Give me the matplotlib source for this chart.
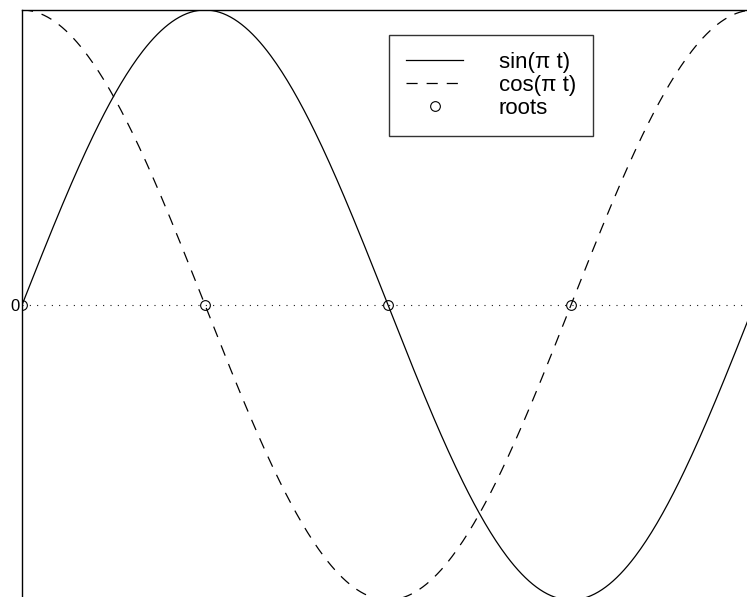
import numpy as np
import matplotlib
matplotlib.use("Agg")
import matplotlib.pyplot as plt

plt.rcParams["font.family"] = ["Liberation Sans", "DejaVu Sans"]

# data
t = np.linspace(0, 2, 401)
roots = [0.0, 0.5, 1.0, 1.5]
root_vals = [0.0, 0.0, 0.0, 0.0]
labels = ["sin(\u03c0 t)", "cos(\u03c0 t)", "roots"]

fig = plt.figure(figsize=(7.47, 5.97), dpi=100)
# axes runs slightly past the right and bottom edges, like the reference crop
ax = fig.add_axes([22 / 747, -3 / 597, 732 / 747, 590 / 597])

ax.plot(t, np.sin(np.pi * t), color="black", lw=0.9, label=labels[0])
ax.plot(t, np.cos(np.pi * t), color="black", lw=0.9, dashes=(8.9, 7.2), label=labels[1])
ax.axhline(0, color="black", lw=0.8, dashes=(0.9, 5.7))
ax.plot(roots, root_vals, linestyle="none", marker="o", ms=7, mfc="none",
        mec="black", mew=0.8, label=labels[2])

ax.set_xlim(0, 2)
ax.set_ylim(-1, 1)
ax.set_xticks([])
ax.set_yticks([0])
ax.tick_params(axis="y", length=0, pad=2, labelsize=12)
for s in ax.spines.values():
    s.set_linewidth(1.0)

leg = fig.legend(loc="upper left", bbox_to_anchor=(389 / 747, 1 - 35 / 597),
                 fontsize=16, frameon=True, fancybox=False, handlelength=2.6,
                 handletextpad=1.6, labelspacing=0.1, borderpad=0.75,
                 borderaxespad=0)
leg.get_frame().set_edgecolor("black")
leg.get_frame().set_linewidth(1.0)

fig.savefig("out.png", dpi=100)
